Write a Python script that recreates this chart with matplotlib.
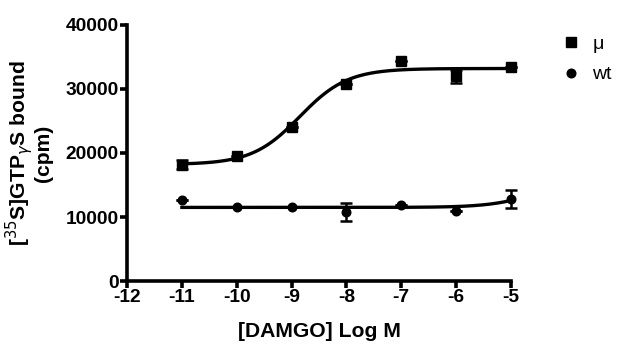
import numpy as np
import matplotlib
matplotlib.use("Agg")
import matplotlib.pyplot as plt
from matplotlib.lines import Line2D

plt.rcParams['font.family'] = ['Liberation Sans', 'DejaVu Sans']

# Data
log_dose = [-11, -10, -9, -8, -7, -6, -5]
mu_mean = [18200, 19500, 24100, 30800, 34300, 32000, 33500]
mu_err = [700, 0, 0, 0, 0, 1000, 0]
wt_mean = [12600, 11600, 11500, 10800, 11800, 11000, 12800]
wt_err = [0, 0, 0, 1400, 0, 0, 1350]

# Fitted sigmoid parameters (bottom, top, logEC50, hill)
mu_fit = (18200, 33200, -8.85, 1.0)
wt_fit = (11500, 16000, -4.5, 1.0)

xticks = [-12, -11, -10, -9, -8, -7, -6, -5]
yticks = [0, 10000, 20000, 30000, 40000]


def sigmoid(x, bottom, top, logec50, hill):
    return bottom + (top - bottom) / (1 + 10 ** ((logec50 - x) * hill))


fig = plt.figure(figsize=(6.27, 3.60), dpi=100)
ax = fig.add_axes([0.2026, 0.2194, 0.815 - 0.2026, 0.9306 - 0.2194])

xs = np.linspace(min(log_dose), max(log_dose), 300)
ax.plot(xs, sigmoid(xs, *mu_fit), color='black', lw=2.4, zorder=2, clip_on=False)
ax.plot(xs, sigmoid(xs, *wt_fit), color='black', lw=2.4, zorder=2, clip_on=False)

ax.errorbar(log_dose, mu_mean, yerr=mu_err, fmt='s', color='black', ms=6.5,
            capsize=4, elinewidth=1.8, capthick=1.8, zorder=3, clip_on=False)
ax.errorbar(log_dose, wt_mean, yerr=wt_err, fmt='o', color='black', ms=6.2,
            capsize=4, elinewidth=1.8, capthick=1.8, zorder=3, clip_on=False)

ax.set_xlim(-12, -5)
ax.set_ylim(0, 40000)
ax.set_xticks(xticks)
ax.set_xticklabels([str(t) for t in xticks])
ax.set_yticks(yticks)
ax.set_yticklabels([str(t) for t in yticks])

for s in ['top', 'right']:
    ax.spines[s].set_visible(False)
for s in ['left', 'bottom']:
    ax.spines[s].set_linewidth(2.6)
ax.tick_params(axis='both', width=2.6, length=5, labelsize=13.8, pad=1)
for lab in ax.get_xticklabels() + ax.get_yticklabels():
    lab.set_fontweight('bold')

ax.set_xlabel('[DAMGO] Log M', fontsize=15.2, fontweight='bold', labelpad=11)
ax.set_ylabel('[$^{35}$S]GTP$_{\\gamma}$S bound\n(cpm)', fontsize=15.2,
              fontweight='bold', labelpad=9, linespacing=0.95)

handles = [Line2D([], [], marker='s', color='black', ls='none', ms=6.5),
           Line2D([], [], marker='o', color='black', ls='none', ms=6.2)]
fig.legend(handles, ['\u03bc', 'wt'], loc='upper left',
           bbox_to_anchor=(0.87, 0.95), frameon=False, fontsize=14,
           handletextpad=0.7, labelspacing=0.65, handlelength=0.8)

fig.savefig('out.png', dpi=100)
